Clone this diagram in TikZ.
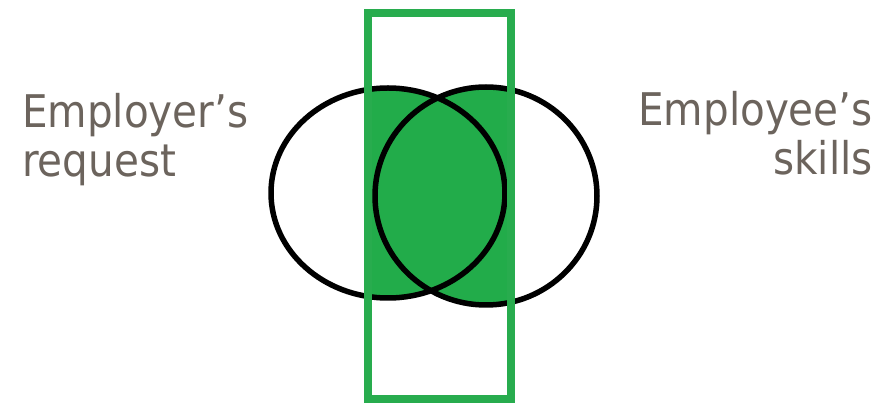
\documentclass[tikz,border=0pt]{standalone}
\usepackage{fontspec}
\setmainfont{DejaVu Sans Condensed}
\definecolor{vgreen}{RGB}{34,172,74}
\definecolor{vgreenline}{RGB}{40,172,78}
\definecolor{labelgray}{RGB}{108,100,93}
\begin{document}
\begin{tikzpicture}[x=1pt,y=-1pt,
  setline/.style={draw=black,line width=5.5pt},
  boxline/.style={draw=vgreenline,line width=8pt},
  lbl/.style={text=labelgray,font=\fontsize{45}{49}\selectfont,inner sep=0pt,align=#1},
]
\useasboundingbox (0,0) rectangle (879,403);
% green fill: rectangle intersected with union of the two ellipses
\begin{scope}
  \clip (368,13) rectangle (511,399);
  \fill[vgreen] (388,193) ellipse [x radius=117, y radius=105];
  \fill[vgreen] (486,196) ellipse [x radius=111, y radius=109];
\end{scope}
\draw[setline] (388,193) ellipse [x radius=117, y radius=105];
\draw[setline] (486,196) ellipse [x radius=111, y radius=109];
\node[boxline,minimum width=143pt,minimum height=386pt,inner sep=0pt] (box) at (439.5,206) {};
\node[lbl=left,anchor=base west] (emp) at (22,177) {Employer’s\\request};
\node[lbl=right,anchor=base east] (ski) at (873,175) {Employee’s\\skills};
\end{tikzpicture}
\end{document}
